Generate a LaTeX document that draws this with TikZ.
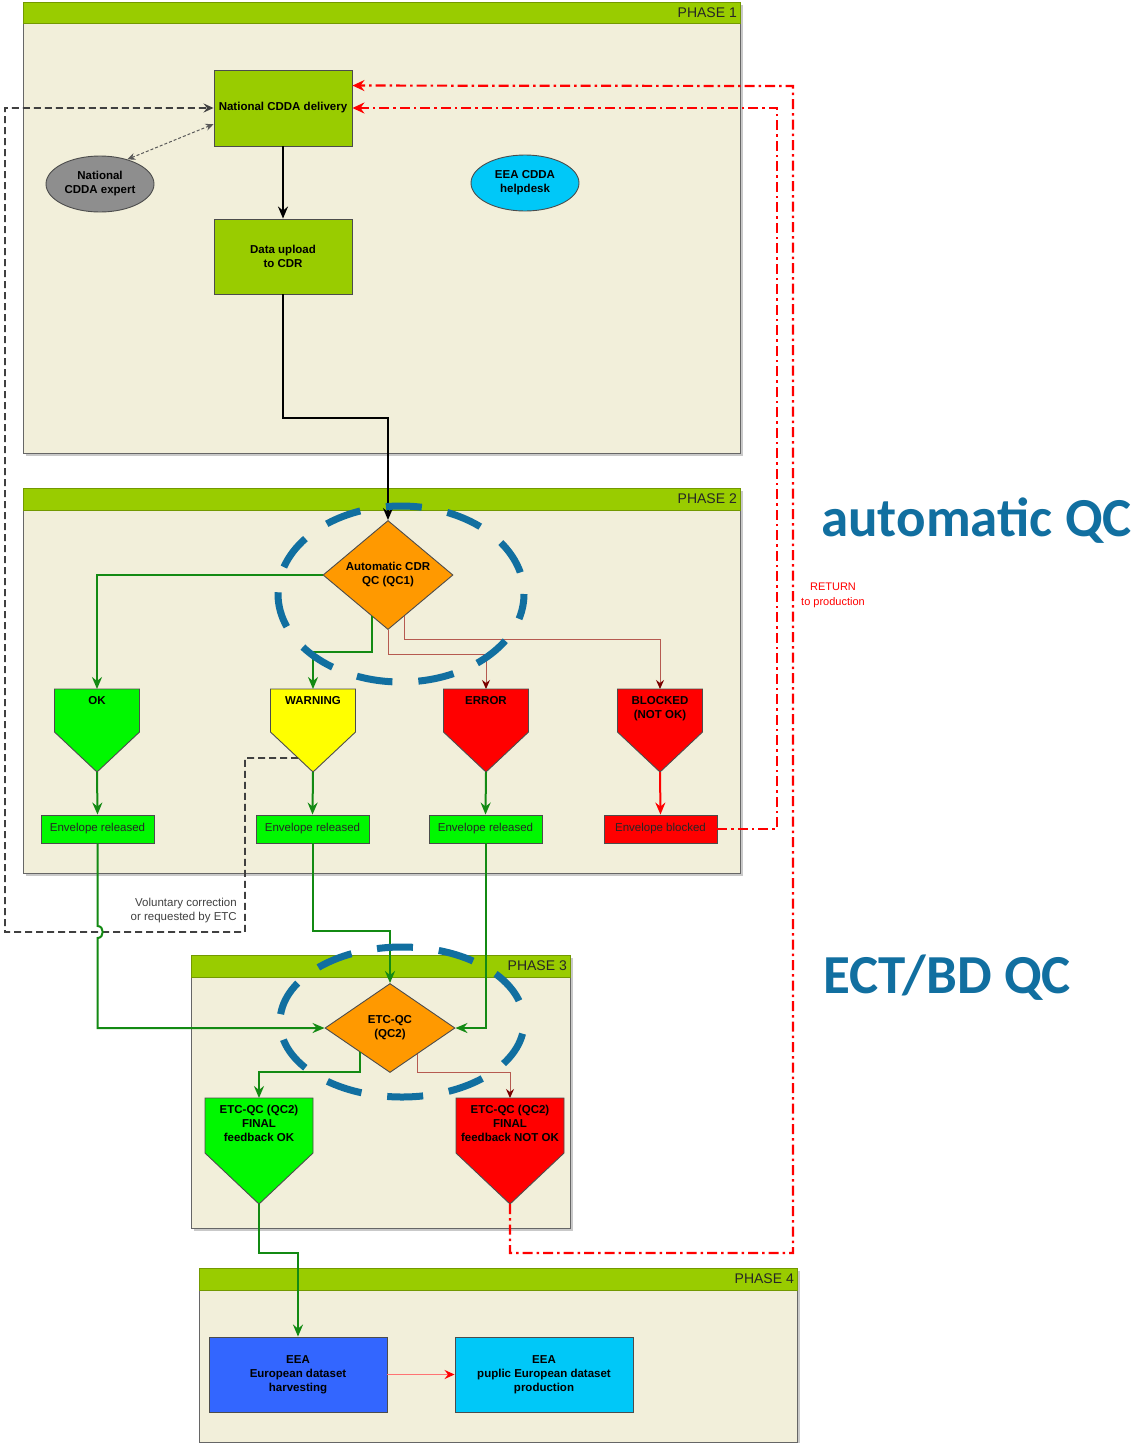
\documentclass[tikz,border=0pt]{standalone}
\usepackage{fontspec}
\setmainfont{Liberation Sans}
\newfontfamily\qcfont{Carlito}
\usetikzlibrary{shapes.geometric,arrows.meta,calc,shadows}
\definecolor{hdr}{HTML}{99CC00}
\definecolor{cream}{HTML}{F2EFDA}
\definecolor{qcblue}{HTML}{116FA0}
\definecolor{grn}{HTML}{138A13}
\definecolor{brn}{HTML}{B65A50}
\definecolor{dkred}{HTML}{7A0000}
\definecolor{lime}{HTML}{00F800}
\definecolor{rd}{HTML}{FF0000}
\definecolor{yel}{HTML}{FFFF00}
\definecolor{orng}{HTML}{FF9900}
\definecolor{cyn}{HTML}{00C8F8}
\definecolor{blu}{HTML}{3366FF}
\definecolor{gry}{HTML}{8E8E8E}
\newcommand\nfont{\fontsize{11.5}{14}\selectfont\bfseries}
\newcommand\rfont{\fontsize{11.5}{14}\selectfont}
\newcommand\pentshape[7]{%
  \draw[pentline, fill=#7] (#2-#4,#3) -- (#2+#4,#3) -- (#2+#4,#5) -- (#2,#6) -- (#2-#4,#5) -- cycle;
  \coordinate (#1-top) at (#2,#3);
  \coordinate (#1-tip) at (#2,#6);
  \coordinate (#1-sl) at (#2-#4,#5);
}
\tikzset{
  phasebox/.style={draw=black!60, fill=cream, line width=1pt,
    drop shadow={shadow xshift=2.5pt, shadow yshift=-2.5pt, opacity=0.35, fill=black!60}},
  phasehdr/.style={fill=hdr, draw=hdr!75!black, line width=0.6pt},
  phaselbl/.style={anchor=east, inner sep=1pt, font=\fontsize{14}{16}\selectfont, text=black!85},
  procbox/.style={draw=black!70, line width=0.9pt, align=center, font=\nfont, inner sep=0pt, text=black},
  ellnode/.style={ellipse, draw=black!70, line width=0.9pt, align=center, font=\nfont, inner sep=0pt,
    minimum width=108, minimum height=56},
  decision/.style={diamond, draw=black!70, line width=0.9pt, fill=orng, align=center, font=\nfont,
    inner sep=0pt, minimum width=130, minimum height=90},
  envbox/.style={draw=black!70, line width=0.9pt, font=\rfont, inner sep=0pt,
    minimum width=113, minimum height=28, text=black!85},
  pentline/.style={draw=black!70, line width=0.9pt},
  ptxt/.style={anchor=north, align=center, font=\nfont, inner sep=0pt},
  tipbig/.style={-{Stealth[length=12pt,width=10pt,inset=4pt]}},
  garrow/.style={draw=grn, line width=2pt, tipbig},
  barrow/.style={draw=black, line width=2pt, tipbig},
  brarrow/.style={draw=brn, line width=1pt, -{Stealth[length=9pt,width=8pt,inset=3pt,color=dkred]}},
  rdarrow/.style={draw=rd, line width=2.2pt, dash pattern=on 10pt off 4pt on 2.5pt off 4pt,
    -{Stealth[length=12pt,width=11pt,inset=4pt]}},
  bdarrow/.style={draw=black!75, line width=1.6pt, dash pattern=on 7pt off 4pt,
    -{Stealth[length=10pt,width=9pt,inset=3.5pt]}},
  gdarrow/.style={draw=black!65, line width=1pt, dash pattern=on 3pt off 2pt,
    {Stealth[length=8pt,width=7pt]}-{Stealth[length=8pt,width=7pt]}},
  qcring/.style={draw=qcblue, line width=7pt, dash pattern=on 36pt off 26pt, dash phase=40pt},
  bigqc/.style={anchor=west, inner sep=0pt, font=\qcfont\bfseries\fontsize{55}{60}\selectfont, text=qcblue},
}
\begin{document}
\begin{tikzpicture}[x=1pt,y=-1pt]
\useasboundingbox (0,0) rectangle (1141,1443);
\fill[white] (0,0) rectangle (1141,1443);

% ---------- phase frames
\draw[phasebox] (23,2) rectangle (740,453);
\draw[phasehdr] (23,2) rectangle (740,23);
\node[phaselbl] (ph1l) at (738,12.5) {PHASE 1};

\draw[phasebox] (23,488) rectangle (740,873);
\draw[phasehdr] (23,488) rectangle (740,510);
\node[phaselbl] (ph2l) at (738,499) {PHASE 2};

\draw[phasebox] (191,955) rectangle (570,1228);
\draw[phasehdr] (191,955) rectangle (570,977);
\node[phaselbl] (ph3l) at (568,966) {PHASE 3};

\draw[phasebox] (199,1268) rectangle (797,1442);
\draw[phasehdr] (199,1268) rectangle (797,1290);
\node[phaselbl] (ph4l) at (795,1279) {PHASE 4};

% ---------- phase 1
\node[procbox, fill=hdr, minimum width=138, minimum height=76] (deliv) at (283,108) {National CDDA delivery};
\node[procbox, fill=hdr, minimum width=138, minimum height=75] (upload) at (283,256.5) {Data upload\\to CDR};
\node[ellnode, fill=gry] (expert) at (100,184) {National\\CDDA expert};
\node[ellnode, fill=cyn] (helpdesk) at (525,183) {EEA CDDA\\helpdesk};

% ---------- phase 2
\node[decision] (qc1) at (388,575) {Automatic CDR\\QC (QC1)};
\pentshape{pok}{97}{689}{42.5}{732}{772}{lime}
\pentshape{pwarn}{313}{689}{42.5}{732}{772}{yel}
\pentshape{perr}{486}{689}{42.5}{732}{772}{rd}
\pentshape{pblk}{660}{689}{42.5}{732}{772}{rd}
\node[ptxt] (pokt) at (97,696) {OK};
\node[ptxt] (pwarnt) at (313,696) {WARNING};
\node[ptxt] (perrt) at (486,696) {ERROR};
\node[ptxt] (pblkt) at (660,696) {BLOCKED\\(NOT OK)};
\node[envbox, fill=lime] (env1) at (97.5,829) {Envelope released};
\node[envbox, fill=lime] (env2) at (312.5,829) {Envelope released};
\node[envbox, fill=lime] (env3) at (485.5,829) {Envelope released};
\node[envbox, fill=rd] (env4) at (660.5,829) {Envelope blocked};

% ---------- phase 3
\node[decision, minimum height=89] (qc2) at (390,1028) {ETC-QC\\(QC2)};
\pentshape{pfok}{259}{1098}{54}{1153}{1204}{lime}
\pentshape{pfno}{510}{1098}{54}{1153}{1204}{rd}
\node[ptxt] (pfokt) at (259,1105) {ETC-QC (QC2)\\FINAL\\feedback OK};
\node[ptxt] (pfnot) at (510,1105) {ETC-QC (QC2)\\FINAL\\feedback NOT OK};

% ---------- phase 4
\node[procbox, fill=blu, minimum width=178, minimum height=75] (harv) at (298,1374.5) {EEA\\European dataset\\harvesting};
\node[procbox, fill=cyn, minimum width=178, minimum height=75] (publ) at (544,1374.5) {EEA\\puplic European dataset\\production};

% ---------- labels
\node[anchor=east, align=right, font=\rfont, text=black!75, inner sep=0pt] (volunt) at (237,910.5) {Voluntary correction\\or requested by ETC};
\node[align=center, font=\fontsize{11}{15}\selectfont, text=rd, inner sep=0pt] (retlbl) at (833,595.5) {RETURN\\to production};
\node[bigqc] (autoqc) at (821,521) {automatic QC};
\node[bigqc] (ectqc) at (823,978) {ECT/BD QC};

% ---------- helper coordinates
\coordinate (pwarn-v) at ($(pwarn-tip)!0.35!(pwarn-sl)$);
\coordinate (q1a) at ($(qc1.west)!0.75!(qc1.south)$);
\coordinate (q1b) at ($(qc1.south)!0.25!(qc1.east)$);
\coordinate (q2a) at ($(qc2.west)!0.54!(qc2.south)$);
\coordinate (q2b) at ($(qc2.south)!0.42!(qc2.east)$);
\coordinate (delivup) at ($(deliv.north east)+(0,16)$);
\coordinate (delivlo) at ($(deliv.south west)!0.29!(deliv.north west)$);

% ---------- connectors
\draw[barrow] (deliv.south) -- (upload.north);
\draw[barrow] (upload.south) -- ++(0,124) -| (qc1.north);
\draw[gdarrow] (expert.42) -- (delivlo);
\draw[bdarrow] (pwarn-v) -- (245,758) -- (245,932) -- (5,932) -- (5,108) -- (deliv.west);

\draw[garrow] (qc1.west) -| (pok-top);
\draw[garrow] (q1a) -- ++(0,36) -| (pwarn-top);
\draw[brarrow] (qc1.south) -- ++(0,25) -| (perr-top);
\draw[brarrow] (q1b) -- ++(0,23) -| (pblk-top);

\draw[garrow] (pok-tip) -- (env1.north);
\draw[garrow] (pwarn-tip) -- (env2.north);
\draw[garrow] (perr-tip) -- (env3.north);
\draw[draw=rd, line width=2pt, tipbig] (pblk-tip) -- (env4.north);

\draw[rdarrow] (env4.east) -- (777,829) -- (777,108) -- (deliv.east);
\draw[rdarrow] (pfno-tip) -- (510,1253) -- (793,1253) -- (793,86) -- (delivup);

\draw[garrow] (env1.south) -- (97.5,926) .. controls (104.5,926) and (104.5,938) .. (97.5,938) -- (97.5,1028) -- (qc2.west);
\draw[garrow] (env2.south) -- ++(0,88) -| (qc2.north);
\draw[garrow] (env3.south) |- (qc2.east);

\draw[garrow] (q2a) -- ++(0,20) -| (pfok-top);
\draw[brarrow] (q2b) -- ++(0,18) -| (pfno-top);
\draw[garrow] (pfok-tip) -- ++(0,49) -| (harv.north);
\draw[draw=rd!55, line width=1.6pt, -{Stealth[length=10pt,width=9pt,inset=3.5pt,color=rd]}] (harv.east) -- (publ.west);

% ---------- QC rings
\draw[qcring] (401,594) ellipse [x radius=123pt, y radius=88pt];
\draw[qcring] (402,1022) ellipse [x radius=122pt, y radius=75pt];
\end{tikzpicture}
\end{document}
